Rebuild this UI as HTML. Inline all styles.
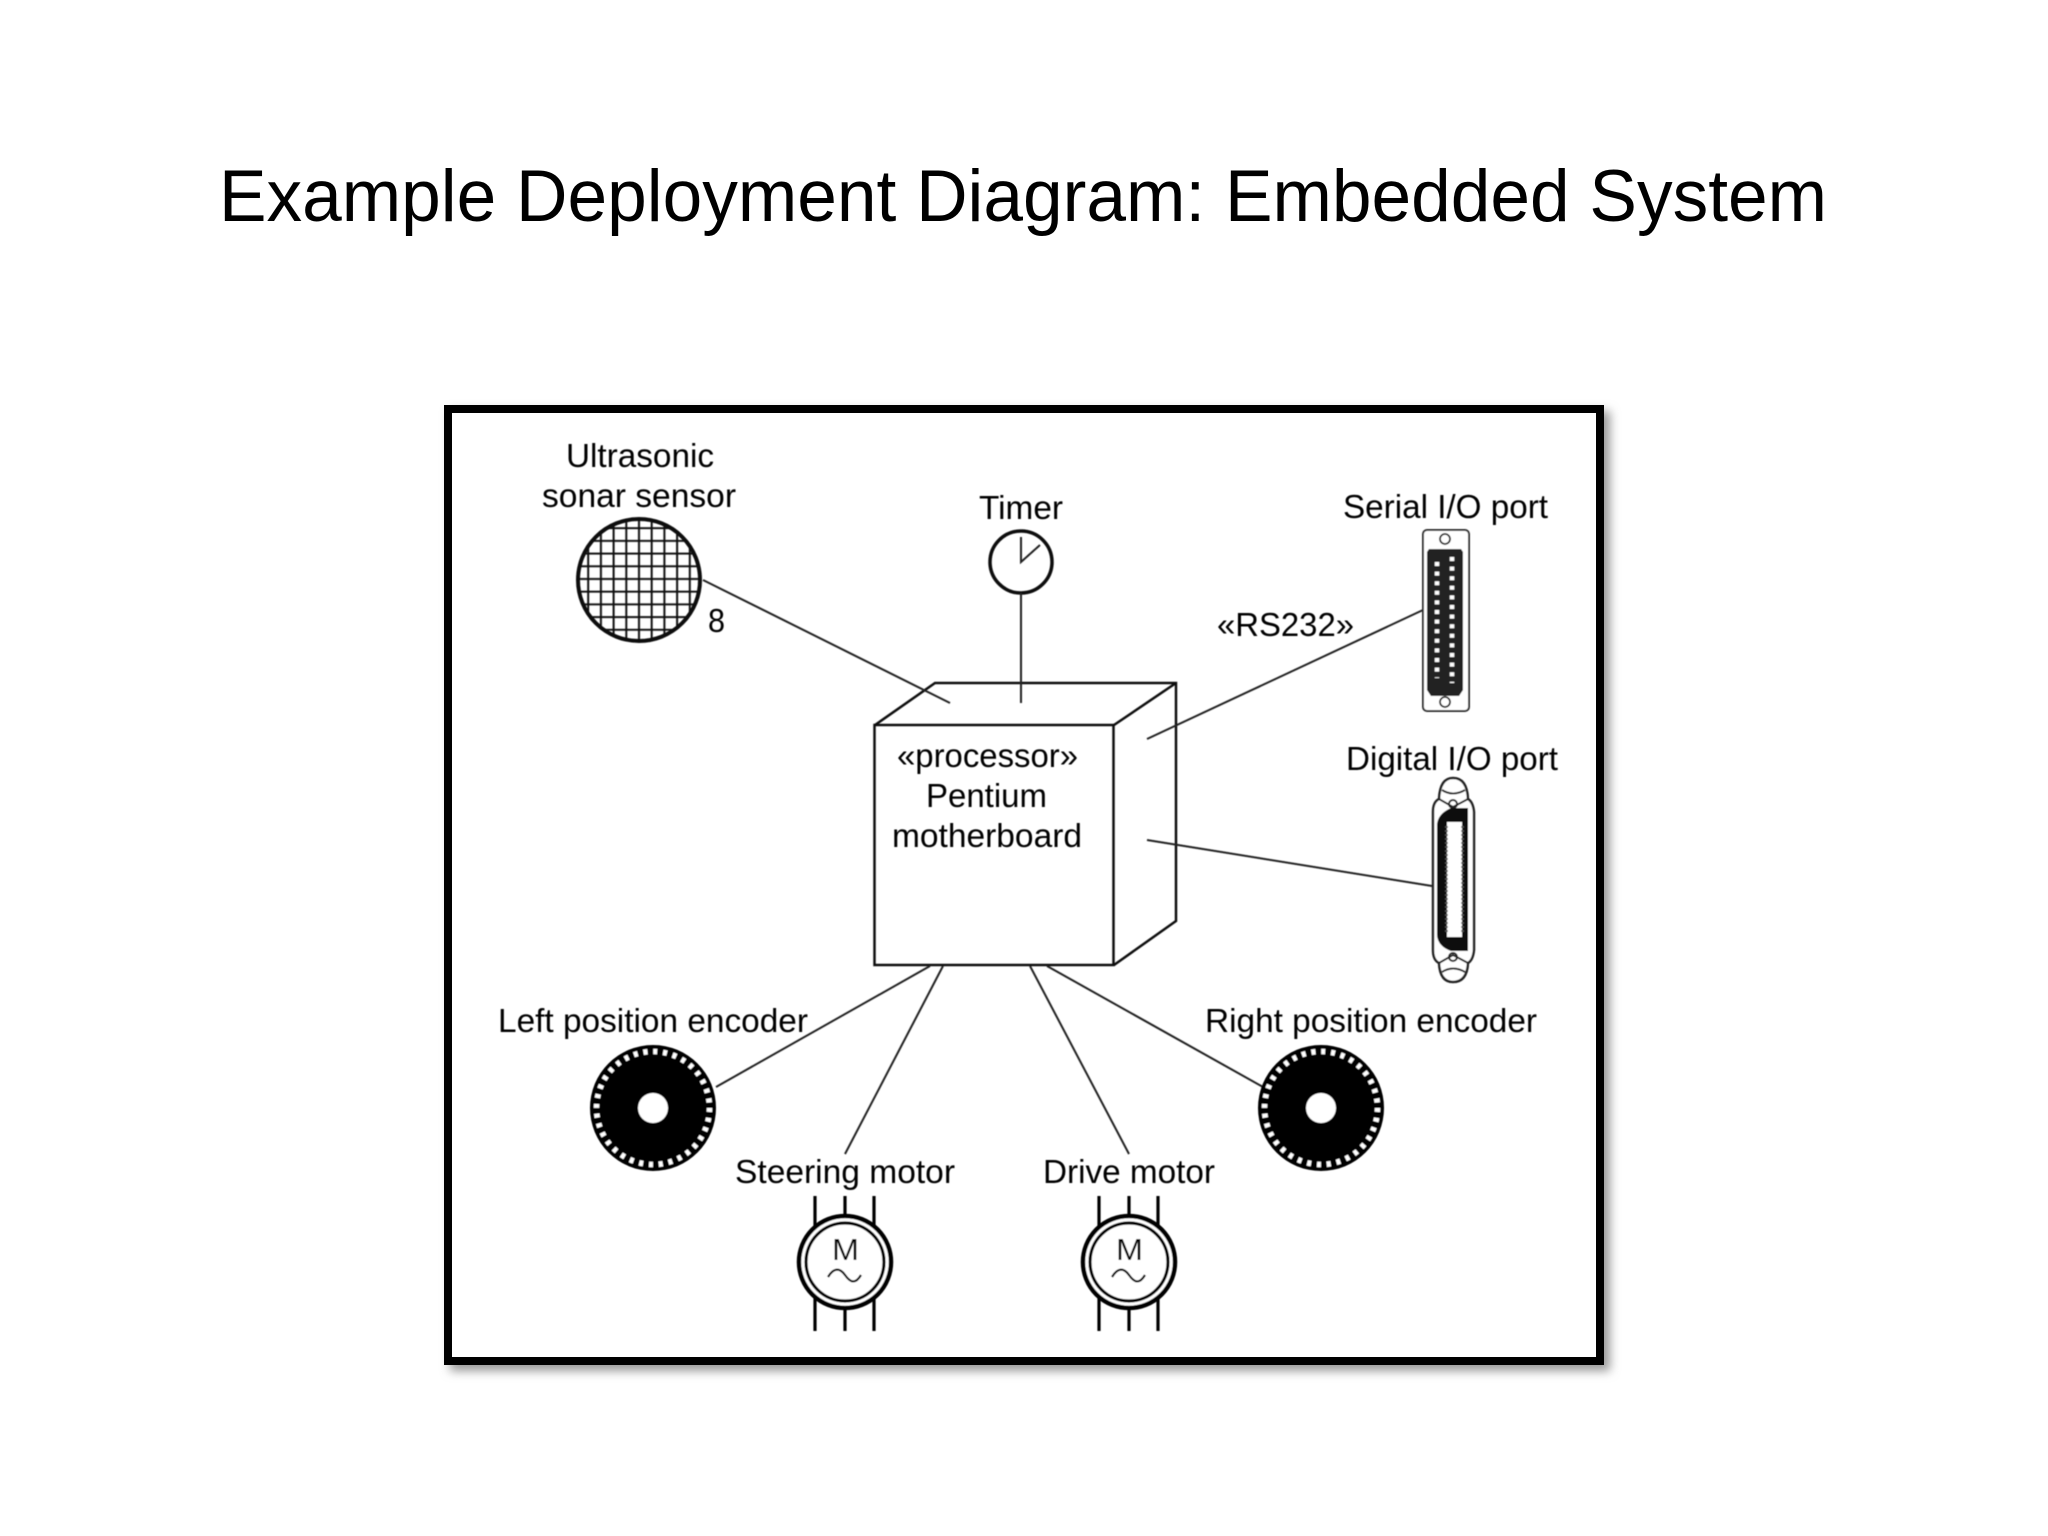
<!DOCTYPE html>
<html lang="en">
<head>
<meta charset="utf-8">
<title>Example Deployment Diagram: Embedded System</title>
<style>
html,body{margin:0;padding:0;background:#fff;width:2048px;height:1536px;overflow:hidden}
svg{display:block;position:absolute;left:0;top:0}
text{font-family:"Liberation Sans",Arial,sans-serif;fill:#000}
.t{font-size:33px}
</style>
</head>
<body>
<svg width="2048" height="1536" viewBox="0 0 2048 1536" xmlns="http://www.w3.org/2000/svg">
<defs>
<filter id="sh" x="-5%" y="-5%" width="110%" height="110%"><feGaussianBlur stdDeviation="5"/></filter>
<filter id="b" x="-2%" y="-2%" width="104%" height="104%"><feGaussianBlur stdDeviation="0.6"/></filter>
<pattern id="grid" x="633" y="573" width="12.7" height="12.7" patternUnits="userSpaceOnUse">
<path d="M6 0V12.7M0 6H12.7" stroke="#111" stroke-width="2" fill="none"/>
</pattern>
<g id="disc">
<circle r="63" fill="#000"/>
<circle r="56.5" fill="none" stroke="#fff" stroke-width="5.5" stroke-dasharray="4 5.86"/>
<circle r="15" fill="#fff"/>
</g>
<g id="motor" fill="none" stroke="#000">
<path d="M-30 -66V-36M0 -66V-46M29 -66V-36M-30 36V69M0 46V69M29 36V69" stroke-width="3.2"/>
<circle r="46" stroke-width="4.5" fill="#fff"/>
<circle r="39" stroke-width="3.2"/>
<path d="M-17 15C-11 5 -5 6 0 13S10 23 16 13" stroke-width="2.2"/>
</g>
</defs>

<text x="219" y="221" font-size="73" textLength="1608" lengthAdjust="spacingAndGlyphs">Example Deployment Diagram: Embedded System</text>

<rect x="450" y="411" width="1160" height="960" fill="#999" filter="url(#sh)"/>
<rect x="448" y="409" width="1152" height="952" fill="#fff" stroke="#000" stroke-width="8"/>

<g filter="url(#b)">
<!-- labels -->
<text class="t" x="566" y="467" textLength="148" lengthAdjust="spacingAndGlyphs">Ultrasonic</text>
<text class="t" x="542" y="507" textLength="194" lengthAdjust="spacingAndGlyphs">sonar sensor</text>
<text class="t" x="979" y="519" textLength="84" lengthAdjust="spacingAndGlyphs">Timer</text>
<text class="t" x="1343" y="518" textLength="205" lengthAdjust="spacingAndGlyphs">Serial I/O port</text>
<text class="t" x="1217" y="636" textLength="137" lengthAdjust="spacingAndGlyphs">«RS232»</text>
<text class="t" x="1346" y="770" textLength="212" lengthAdjust="spacingAndGlyphs">Digital I/O port</text>
<text class="t" x="708" y="632" textLength="17" lengthAdjust="spacingAndGlyphs">8</text>
<text class="t" x="897" y="767" textLength="181" lengthAdjust="spacingAndGlyphs">«processor»</text>
<text class="t" x="926" y="807" textLength="121" lengthAdjust="spacingAndGlyphs">Pentium</text>
<text class="t" x="892" y="847" textLength="190" lengthAdjust="spacingAndGlyphs">motherboard</text>
<text class="t" x="498" y="1032" textLength="310" lengthAdjust="spacingAndGlyphs">Left position encoder</text>
<text class="t" x="1205" y="1032" textLength="332" lengthAdjust="spacingAndGlyphs">Right position encoder</text>
<text class="t" x="735" y="1183" textLength="220" lengthAdjust="spacingAndGlyphs">Steering motor</text>
<text class="t" x="1043" y="1183" textLength="172" lengthAdjust="spacingAndGlyphs">Drive motor</text>

<!-- sonar -->
<circle cx="639" cy="580" r="61" fill="url(#grid)" stroke="#111" stroke-width="4"/>

<!-- timer -->
<circle cx="1021" cy="562" r="31" fill="none" stroke="#111" stroke-width="3.5"/>
<path d="M1021 537V562L1040 545" fill="none" stroke="#222" stroke-width="2"/>

<!-- box -->
<g fill="none" stroke="#111" stroke-width="2.5">
<rect x="874.5" y="725" width="239" height="240"/>
<path d="M875 725L935 683H1176V921L1114 965M1114 725L1176 683"/>
</g>

<!-- connectors -->
<g fill="none" stroke="#222" stroke-width="2">
<path d="M703 580L950 703"/>
<path d="M1021 593V703"/>
<path d="M1147 739L1423 610"/>
<path d="M1147 840L1432 886"/>
<path d="M716 1087L930 966"/>
<path d="M943 966L845 1154"/>
<path d="M1030 966L1129 1154"/>
<path d="M1047 966L1263 1087"/>
</g>

<!-- serial port -->
<rect x="1423" y="530" width="46" height="181" rx="4" fill="#fff" stroke="#333" stroke-width="2"/>
<circle cx="1445" cy="539" r="5" fill="#fff" stroke="#222" stroke-width="1.8"/>
<circle cx="1445" cy="702" r="5" fill="#fff" stroke="#222" stroke-width="1.8"/>
<path d="M1429 549H1461L1463 552V690L1459 696H1431L1427 690V552Z" fill="#222"/>
<path d="M1437 562V678M1452 557V683" fill="none" stroke="#fff" stroke-width="4.5" stroke-dasharray="4 5.6"/>

<!-- digital port -->
<g fill="none" stroke="#222" stroke-width="2">
<path d="M1433 812Q1433 802 1439 799Q1440 778 1453 778Q1467 778 1468 799Q1473 802 1474 812V950Q1473 960 1468 963Q1467 982 1453 982Q1440 982 1439 963Q1433 960 1433 950Z" fill="#fff" stroke-width="2.5"/>
<path d="M1439 799L1453 807L1468 799M1439 963L1453 955L1468 963M1442 790Q1453 797 1465 790M1442 972Q1453 965 1465 972"/>
<circle cx="1453" cy="804" r="4"/>
<circle cx="1453" cy="957" r="4"/>
</g>
<path d="M1451 808H1468V951H1451Q1437 946 1437 934V826Q1437 814 1451 808Z" fill="#111"/>
<rect x="1447" y="822" width="15" height="115" fill="#fff"/>
<path d="M1446.5 826V934M1462.5 826V934" fill="none" stroke="#555" stroke-width="2.5" stroke-dasharray="2 2"/>

<!-- encoders -->
<use href="#disc" x="653" y="1108"/>
<use href="#disc" x="1321" y="1108"/>

<!-- motors -->
<use href="#motor" x="845" y="1262"/>
<use href="#motor" x="1129" y="1262"/>
<text x="832" y="1260" font-size="31" textLength="27" lengthAdjust="spacingAndGlyphs">M</text>
<text x="1116" y="1260" font-size="31" textLength="27" lengthAdjust="spacingAndGlyphs">M</text>
</g>
</svg>
</body>
</html>
